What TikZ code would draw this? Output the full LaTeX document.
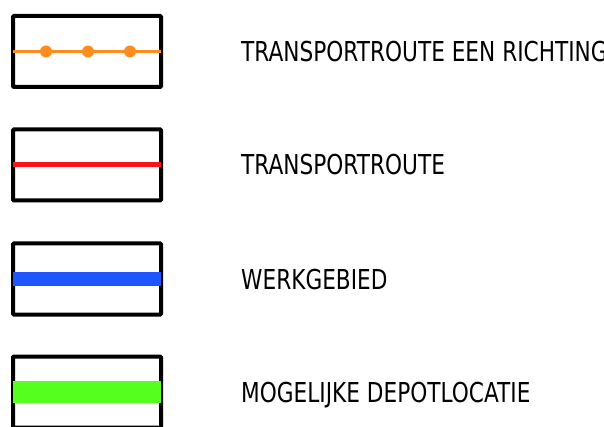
\documentclass[tikz,border=0pt]{standalone}
\usepackage{fontspec}
\newfontfamily\lblfont[FakeStretch=0.79]{DejaVu Sans}
\definecolor{routeorange}{RGB}{255,140,30}
\definecolor{routered}{RGB}{250,20,25}
\definecolor{areablue}{RGB}{30,85,255}
\definecolor{depotgreen}{RGB}{85,255,30}
\tikzset{
  legbox/.style={draw=black, line width=4pt, rounded corners=1pt, minimum width=148pt, minimum height=71pt, inner sep=0pt, outer sep=0pt},
  lbl/.style={anchor=base west, inner sep=0pt, font=\lblfont\fontsize{27.4pt}{30pt}\selectfont},
  marker/.style={fill=routeorange}
}
\begin{document}
\begin{tikzpicture}[x=1pt,y=-1pt]
\useasboundingbox (0,0) rectangle (604,427);
% boxes
\node[legbox] (b1) at (87,51.5) {};
\node[legbox] (b2) at (87,165) {};
\node[legbox] (b3) at (87,279) {};
\node[legbox] (b4) at (87,392) {};
% one-way route
\draw[routeorange, line width=2.5pt] (b1.west) -- (b1.east);
\foreach \mx in {46,88,130}{
  \fill[marker] (\mx,51.5) circle (6pt);
  \fill[marker, rounded corners=1.5pt] (\mx-1,45.5) -- (\mx+8,51.5) -- (\mx-1,57.5) -- cycle;
}
% route
\draw[routered, line width=5pt] (b2.west) -- (b2.east);
% area
\draw[areablue, line width=14pt] (b3.west) -- (b3.east);
% depot
\draw[depotgreen, line width=22pt] (b4.west) -- (b4.east);
% labels
\node[lbl] (t1) at (241,62) {TRANSPORTROUTE EEN RICHTING};
\node[lbl] (t2) at (241,175) {TRANSPORTROUTE};
\node[lbl] (t3) at (241,289) {WERKGEBIED};
\node[lbl] (t4) at (241,402) {MOGELIJKE DEPOTLOCATIE};
\end{tikzpicture}
\end{document}
